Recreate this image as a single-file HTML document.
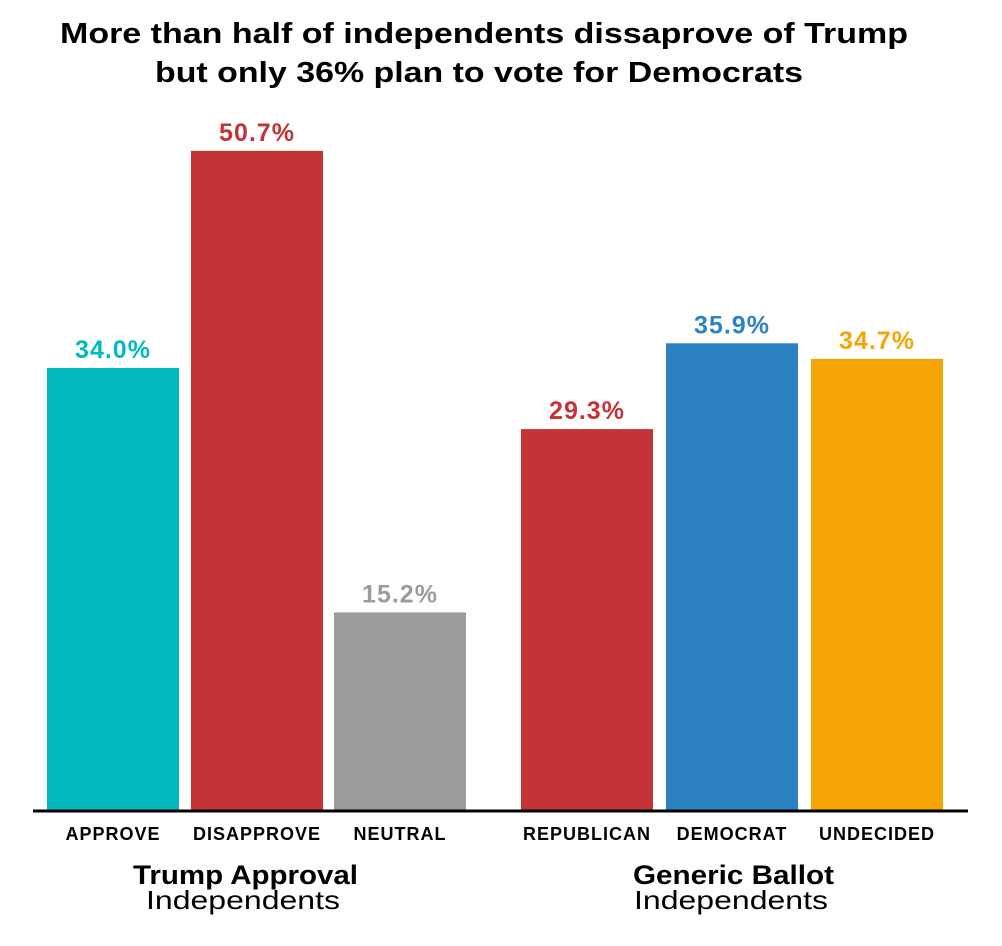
<!DOCTYPE html>
<html><head><meta charset="utf-8"><style>
body{margin:0;background:#fff;}
svg{display:block;font-family:"Liberation Sans",sans-serif;}
</style></head><body>
<svg id="c" width="1002" height="946">
<text x="60" y="43" textLength="848" lengthAdjust="spacingAndGlyphs" font-size="29" font-weight="bold" fill="#000">More than half of independents dissaprove of Trump</text>
<text x="155" y="82" textLength="648" lengthAdjust="spacingAndGlyphs" font-size="29" font-weight="bold" fill="#000">but only 36% plan to vote for Democrats</text>
<g id="bars"></g>
<line x1="33" y1="811" x2="968" y2="811" stroke="#000" stroke-width="3"/>
<text x="133" y="884" textLength="225" lengthAdjust="spacingAndGlyphs" font-size="27" font-weight="bold">Trump Approval</text>
<text x="146" y="909" textLength="194" lengthAdjust="spacingAndGlyphs" font-size="26">Independents</text>
<text x="633" y="884" textLength="201" lengthAdjust="spacingAndGlyphs" font-size="27" font-weight="bold">Generic Ballot</text>
<text x="634" y="909" textLength="194" lengthAdjust="spacingAndGlyphs" font-size="26">Independents</text>
</svg>
<script>
const categories = ["APPROVE","DISAPPROVE","NEUTRAL","REPUBLICAN","DEMOCRAT","UNDECIDED"];
const values = [34.0,50.7,15.2,29.3,35.9,34.7];
const colors = ["#02babd","#c43335","#9c9c9c","#c43335","#2d82c4","#f4a503"];
const barLeft = [47,191,334,521,666,811];
const baseline = 810, pxPer = 13.0, barW = 132;
function y(v){return baseline - v*pxPer;}
const g = document.getElementById('bars');
const ns = "http://www.w3.org/2000/svg";
categories.forEach((c,i)=>{
  const r = document.createElementNS(ns,'rect');
  r.setAttribute('x',barLeft[i]); r.setAttribute('y',y(values[i]));
  r.setAttribute('width',barW); r.setAttribute('height',baseline-y(values[i]));
  r.setAttribute('fill',colors[i]);
  
  
  g.appendChild(r);
  const t = document.createElementNS(ns,'text');
  t.setAttribute('x',barLeft[i]+barW/2); t.setAttribute('y',y(values[i])-10);
  t.setAttribute('text-anchor','middle'); t.setAttribute('font-size','25'); t.setAttribute('font-weight','bold');
  t.setAttribute('letter-spacing','1');
  t.setAttribute('fill',colors[i]);
  t.textContent = values[i].toFixed(1)+'%';
  
  
  g.appendChild(t);
  const l = document.createElementNS(ns,'text');
  l.setAttribute('x',barLeft[i]+barW/2); l.setAttribute('y',840);
  l.setAttribute('text-anchor','middle'); l.setAttribute('font-size','18'); l.setAttribute('font-weight','bold');
  l.setAttribute('letter-spacing','1');
  l.textContent = c;
  
  
  g.appendChild(l);
});
</script>
</body></html>
